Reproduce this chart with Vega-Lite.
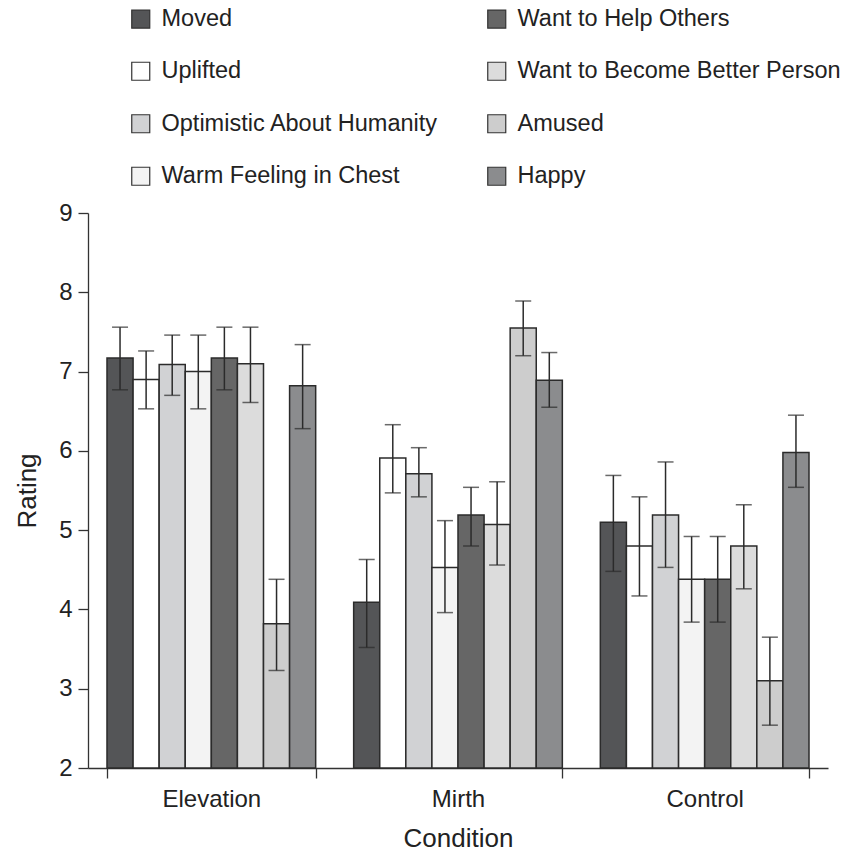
{
  "$schema": "https://vega.github.io/schema/vega-lite/v6.json",
  "width": 740,
  "height": 555,
  "autosize": {"type": "none"},
  "padding": {"left": 88, "top": 213, "right": 13, "bottom": 85},
  "background": "white",
  "config": {
    "font": "Liberation Sans",
    "view": {"stroke": null},
    "axis": {"grid": false, "domainColor": "#333", "tickColor": "#333", "labelColor": "#222", "titleColor": "#222", "titleFontWeight": "normal", "domainWidth": 1.3, "tickWidth": 1.3}
  },
  "data": {
    "values": [
      {"condition": "Elevation", "emotion": "Moved", "rating": 7.17, "lo": 6.77, "hi": 7.56},
      {"condition": "Elevation", "emotion": "Uplifted", "rating": 6.90, "lo": 6.53, "hi": 7.26},
      {"condition": "Elevation", "emotion": "Optimistic About Humanity", "rating": 7.09, "lo": 6.70, "hi": 7.46},
      {"condition": "Elevation", "emotion": "Warm Feeling in Chest", "rating": 7.00, "lo": 6.53, "hi": 7.46},
      {"condition": "Elevation", "emotion": "Want to Help Others", "rating": 7.17, "lo": 6.77, "hi": 7.56},
      {"condition": "Elevation", "emotion": "Want to Become Better Person", "rating": 7.10, "lo": 6.61, "hi": 7.56},
      {"condition": "Elevation", "emotion": "Amused", "rating": 3.82, "lo": 3.23, "hi": 4.38},
      {"condition": "Elevation", "emotion": "Happy", "rating": 6.82, "lo": 6.28, "hi": 7.34},
      {"condition": "Mirth", "emotion": "Moved", "rating": 4.09, "lo": 3.52, "hi": 4.63},
      {"condition": "Mirth", "emotion": "Uplifted", "rating": 5.91, "lo": 5.47, "hi": 6.33},
      {"condition": "Mirth", "emotion": "Optimistic About Humanity", "rating": 5.71, "lo": 5.42, "hi": 6.04},
      {"condition": "Mirth", "emotion": "Warm Feeling in Chest", "rating": 4.53, "lo": 3.96, "hi": 5.12},
      {"condition": "Mirth", "emotion": "Want to Help Others", "rating": 5.19, "lo": 4.80, "hi": 5.54},
      {"condition": "Mirth", "emotion": "Want to Become Better Person", "rating": 5.07, "lo": 4.56, "hi": 5.61},
      {"condition": "Mirth", "emotion": "Amused", "rating": 7.55, "lo": 7.20, "hi": 7.89},
      {"condition": "Mirth", "emotion": "Happy", "rating": 6.89, "lo": 6.55, "hi": 7.24},
      {"condition": "Control", "emotion": "Moved", "rating": 5.10, "lo": 4.48, "hi": 5.69},
      {"condition": "Control", "emotion": "Uplifted", "rating": 4.80, "lo": 4.17, "hi": 5.42},
      {"condition": "Control", "emotion": "Optimistic About Humanity", "rating": 5.19, "lo": 4.53, "hi": 5.86},
      {"condition": "Control", "emotion": "Warm Feeling in Chest", "rating": 4.38, "lo": 3.84, "hi": 4.92},
      {"condition": "Control", "emotion": "Want to Help Others", "rating": 4.38, "lo": 3.84, "hi": 4.92},
      {"condition": "Control", "emotion": "Want to Become Better Person", "rating": 4.80, "lo": 4.26, "hi": 5.32},
      {"condition": "Control", "emotion": "Amused", "rating": 3.10, "lo": 2.54, "hi": 3.65},
      {"condition": "Control", "emotion": "Happy", "rating": 5.98, "lo": 5.54, "hi": 6.45}
    ]
  },
  "encoding": {
    "x": {
      "field": "condition", "type": "nominal",
      "sort": ["Elevation", "Mirth", "Control"],
      "scale": {"paddingInner": 0.154, "paddingOuter": 0.077},
      "title": "Condition",
      "axis": {"labelAngle": 0, "labelFontSize": 24, "labelPadding": 9, "tickSize": 10, "tickBand": "extent", "titleFontSize": 26, "titlePadding": 14}
    },
    "xOffset": {
      "field": "emotion", "type": "nominal",
      "sort": ["Moved", "Uplifted", "Optimistic About Humanity", "Warm Feeling in Chest", "Want to Help Others", "Want to Become Better Person", "Amused", "Happy"],
      "scale": {"paddingInner": 0, "paddingOuter": 0}
    }
  },
  "layer": [
    {
      "mark": {"type": "bar", "stroke": "#2b2b2b", "strokeWidth": 1.5},
      "encoding": {
        "y": {
          "field": "rating", "type": "quantitative",
          "scale": {"domain": [2, 9], "nice": false, "zero": false},
          "title": "Rating",
          "axis": {"values": [2, 3, 4, 5, 6, 7, 8, 9], "format": "d", "labelFontSize": 24, "labelPadding": 6, "tickSize": 10, "titleFontSize": 26, "titlePadding": 18}
        },
        "y2": {"datum": 2},
        "fill": {
          "field": "emotion", "type": "nominal",
          "scale": {
            "domain": ["Moved", "Uplifted", "Optimistic About Humanity", "Warm Feeling in Chest", "Want to Help Others", "Want to Become Better Person", "Amused", "Happy"],
            "range": ["#545557", "#ffffff", "#d1d2d4", "#f3f3f3", "#666666", "#dcdcdc", "#cdcdcd", "#8b8c8e"]
          },
          "legend": {
            "orient": "none", "legendX": 41, "legendY": -206, "columns": 2,
            "title": null, "padding": 0,
            "symbolType": "square", "symbolSize": 324, "symbolStrokeColor": "#333", "symbolStrokeWidth": 1.2, "symbolOpacity": 1,
            "labelFontSize": 23.5, "labelOffset": 9, "labelColor": "#222", "labelLimit": 600,
            "rowPadding": 27.5, "columnPadding": 46
          }
        }
      }
    },
    {
      "mark": {"type": "rule", "color": "#2b2b2b", "strokeWidth": 1.5},
      "encoding": {
        "y": {"field": "lo", "type": "quantitative", "title": "Rating"},
        "y2": {"field": "hi"}
      }
    },
    {
      "mark": {"type": "tick", "color": "#2b2b2b", "thickness": 1.5, "size": 16},
      "encoding": {"y": {"field": "lo", "type": "quantitative", "title": "Rating"}}
    },
    {
      "mark": {"type": "tick", "color": "#2b2b2b", "thickness": 1.5, "size": 16},
      "encoding": {"y": {"field": "hi", "type": "quantitative", "title": "Rating"}}
    }
  ]
}
